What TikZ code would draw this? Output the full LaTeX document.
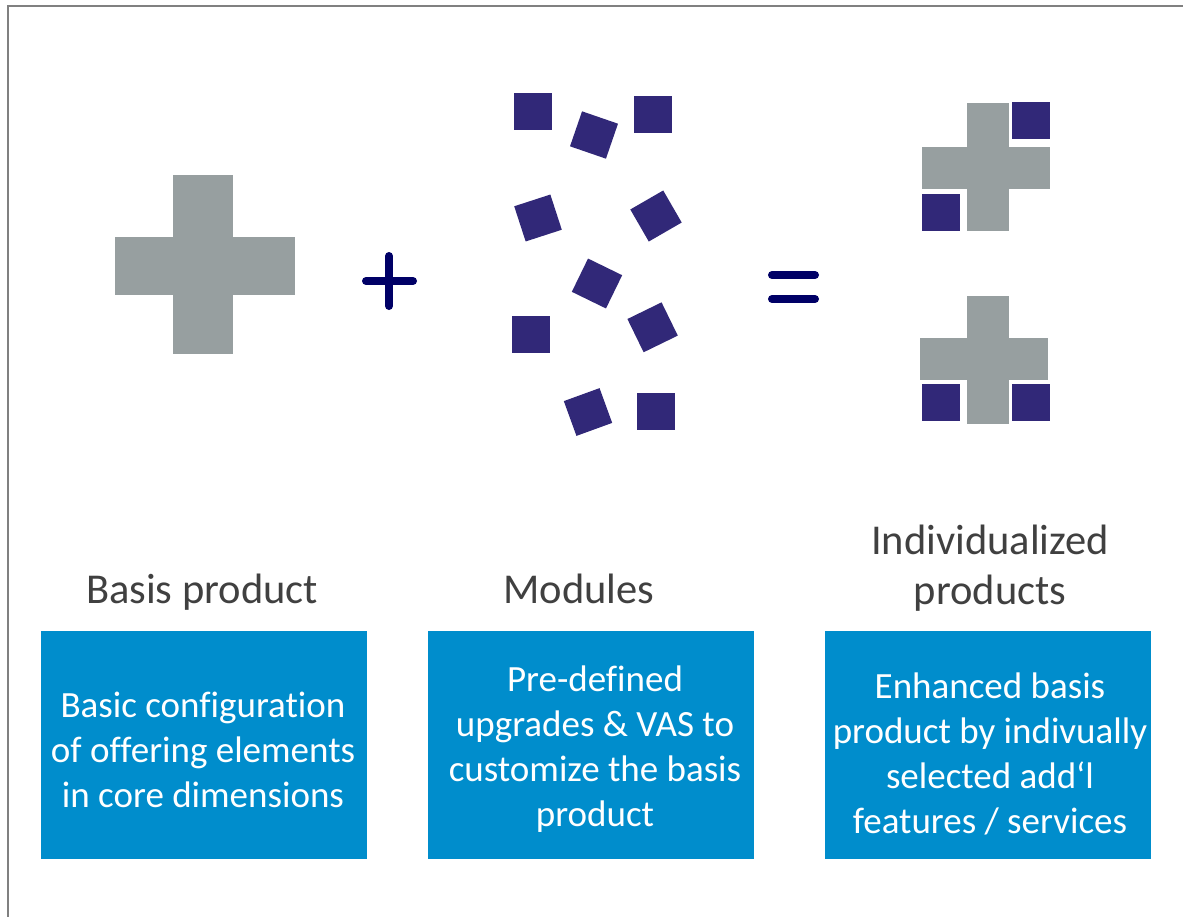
\documentclass[tikz,border=0pt]{standalone}
\usepackage{fontspec}
\setmainfont{Carlito}[Ligatures=NoCommon]
\definecolor{framegray}{RGB}{128,128,128}
\definecolor{crossgray}{RGB}{151,159,160}
\definecolor{modnavy}{RGB}{49,40,120}
\definecolor{opnavy}{RGB}{0,0,102}
\definecolor{boxblue}{RGB}{0,141,204}
\definecolor{titlegray}{RGB}{64,64,64}
\begin{document}
\begin{tikzpicture}[x=1pt,y=-1pt,
  modsq/.style={fill=modnavy, draw=none, minimum width=38pt, minimum height=37pt, inner sep=0pt},
  crossfill/.style={fill=crossgray},
  opsign/.style={draw=opnavy, line width=8pt, line cap=round},
  heading/.style={text=titlegray, font=\fontsize{42.5}{50}\selectfont, align=center, inner sep=0pt},
  infobox/.style={fill=boxblue, minimum width=326pt, minimum height=228pt, inner sep=0pt},
  boxtext/.style={text=white, font=\fontsize{37}{45}\selectfont, align=center, inner sep=0pt},
]
\useasboundingbox (0,0) rectangle (1183,916);
\fill[white] (0,0) rectangle (1183,916);
% frame
\draw[framegray, line width=2pt] (8,920) -- (8,6) -- (1190,6);

% basis product cross
\fill[crossfill] (173,175) rectangle (233,354);
\fill[crossfill] (115,237) rectangle (295,295);

% plus sign
\draw[opsign] (366,281) -- (413,281);
\draw[opsign] (389,256) -- (389,306);

% scattered modules
\node[modsq] (m1)  at (533,111.5) {};
\node[modsq, rotate=-19] (m2) at (594,135) {};
\node[modsq] (m3)  at (653,114) {};
\node[modsq, rotate=18] (m4) at (538,218) {};
\node[modsq, rotate=30] (m5) at (656,216) {};
\node[modsq, rotate=-26] (m6) at (597,283.5) {};
\node[modsq] (m7)  at (531,334) {};
\node[modsq, rotate=26] (m8) at (652.6,327.3) {};
\node[modsq, rotate=20] (m9) at (588,412) {};
\node[modsq] (m10) at (655.5,411) {};

% equals sign
\draw[opsign] (772,275) -- (815,275);
\draw[opsign] (772,299) -- (815,299);

% individualized product, upper
\fill[crossfill] (967,103) rectangle (1009,231);
\fill[crossfill] (922,147) rectangle (1050,189);
\node[modsq, anchor=north west] (u1) at (1012,102) {};
\node[modsq, anchor=north west] (u2) at (922,194) {};

% individualized product, lower
\fill[crossfill] (967,296) rectangle (1009,424);
\fill[crossfill] (920,338) rectangle (1048,380);
\node[modsq, anchor=north west] (l1) at (922,384) {};
\node[modsq, anchor=north west] (l2) at (1012,384) {};

% headings
\node[heading, anchor=base] (h1) at (202,603) {Basis product};
\node[heading, anchor=base] (h2) at (579,603) {Modules};
\node[heading, anchor=base] (h3) at (990,604) {Individualized\\products};

% description boxes
\node[infobox] (b1) at (204,744.5) {};
\node[infobox] (b2) at (590.5,744.5) {};
\node[infobox] (b3) at (987.5,744.5) {};
\node[boxtext] (d1) at (203,750)
  {Basic configuration\\of offering elements\\in core dimensions};
\node[boxtext] (d2) at (595,749)
  {Pre-defined\\upgrades \& VAS to\\customize the basis\\product};
\node[boxtext] (d3) at (990,754)
  {Enhanced basis\\product by indivually\\selected add‘l\\features / services};
\end{tikzpicture}
\end{document}
